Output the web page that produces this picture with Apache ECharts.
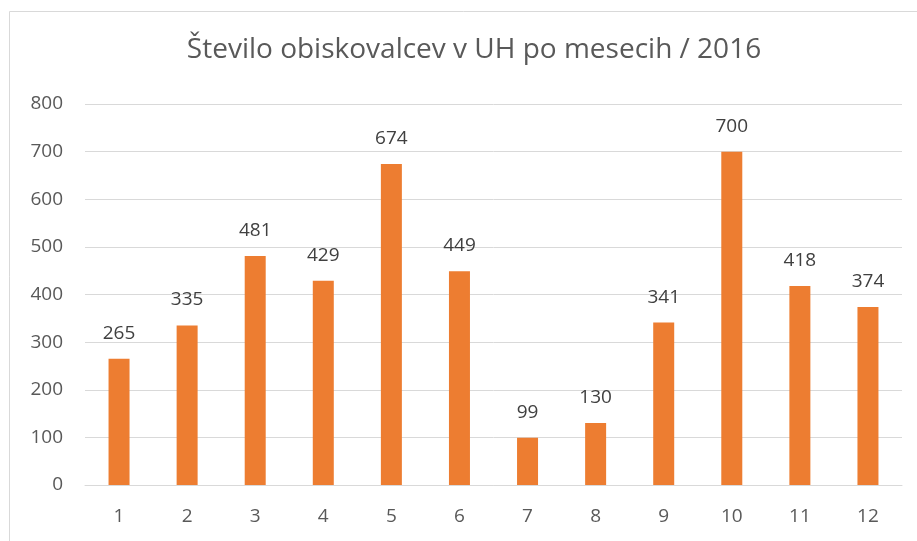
<!DOCTYPE html>
<html>
<head>
<meta charset="utf-8">
<script src="https://cdn.jsdelivr.net/npm/echarts@6/dist/echarts.min.js"></script>
<style>
  html, body { margin: 0; padding: 0; background: #fff; }
  #chart { width: 917px; height: 541px; }
</style>
</head>
<body>
<div id="chart"></div>
<script>
var months = ['1', '2', '3', '4', '5', '6', '7', '8', '9', '10', '11', '12'];
var visitors = [265, 335, 481, 429, 674, 449, 99, 130, 341, 700, 418, 374];
var titleText = 'Število obiskovalcev v UH po mesecih / 2016';

var myChart = echarts.init(document.getElementById('chart'));
var font = '"Open Sans", "Noto Sans", sans-serif';

var option = {
	animation: false,
	graphic: [
		{
			type: 'rect',
			shape: { x: 9.5, y: 11.5, width: 930, height: 560 },
			style: { fill: 'none', stroke: '#d9d9d9', lineWidth: 1 },
			silent: true
		}
	],
	title: {
		text: titleText,
		left: 469,
		textAlign: 'center',
		top: 31,
		textStyle: {
			fontFamily: font,
			fontSize: 28,
			fontWeight: 'normal',
			color: '#595959'
		}
	},
	grid: {
		left: 85,
		right: 15,
		top: 104,
		bottom: 56
	},
	xAxis: {
		type: 'category',
		data: months,
		axisTick: { show: false },
		axisLine: { lineStyle: { color: '#d9d9d9', width: 1 } },
		axisLabel: {
			fontFamily: font,
			fontSize: 19,
			color: '#595959',
			margin: 22
		}
	},
	yAxis: {
		type: 'value',
		min: 0,
		max: 800,
		interval: 100,
		axisLine: { show: false },
		axisTick: { show: false },
		axisLabel: {
			fontFamily: font,
			fontSize: 19,
			color: '#595959',
			margin: 22
		},
		splitLine: { lineStyle: { color: '#d9d9d9', width: 1 } }
	},
	series: [
		{
			type: 'bar',
			data: visitors,
			barWidth: 21,
			itemStyle: { color: '#ed7d31' },
			label: {
				show: true,
				position: 'top',
				distance: 16,
				fontFamily: font,
				fontSize: 19,
				color: '#404040'
			}
		}
	]
};

option && myChart.setOption(option);
</script>
</body>
</html>
